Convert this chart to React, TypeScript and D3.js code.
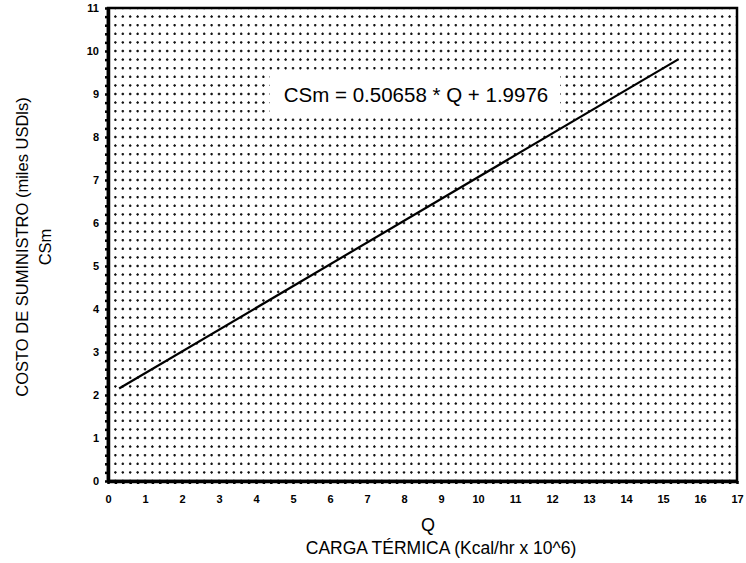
import { useEffect, useRef } from 'react';
import * as d3 from 'd3';

// fitted line end points (Q, CSm)
const lineQ = [0.3, 15.4];
const lineCSm = [2.15, 9.8];

const xTicks = [0, 1, 2, 3, 4, 5, 6, 7, 8, 9, 10, 11, 12, 13, 14, 15, 16, 17];
const yTicks = [0, 1, 2, 3, 4, 5, 6, 7, 8, 9, 10, 11];

const equationLabel = 'CSm = 0.50658 * Q + 1.9976';
const yTitle = 'COSTO DE SUMINISTRO (miles USDls)';
const yTitle2 = 'CSm';
const xTitle = 'Q';
const xTitle2 = 'CARGA TÉRMICA (Kcal/hr x 10^6)';

export default function App() {
  const svgRef = useRef<SVGSVGElement>(null);

  useEffect(() => {
    if (!svgRef.current) return;
    const svg = d3.select(svgRef.current);
    svg.selectAll('*').remove();

    const W = 746;
    const H = 563;
    const margin = { top: 8, right: 9, bottom: 82, left: 108 };
    const width = W - margin.left - margin.right;
    const height = H - margin.top - margin.bottom;
    const font = 'Liberation Sans, Arial, sans-serif';

    svg.attr('width', W).attr('height', H);
    svg.append('rect').attr('width', W).attr('height', H).attr('fill', '#fff');

    const g = svg.append('g').attr('transform', `translate(${margin.left},${margin.top})`);

    const x = d3.scaleLinear().domain([0, 17]).range([0, width]);
    const y = d3.scaleLinear().domain([0, 11]).range([height, 0]);

    const minorX = d3.range(0, 17.001, 0.2);
    const minorY = d3.range(0, 11.001, 0.2);
    const dx = x(0.2) - x(0);
    const dy = y(0) - y(0.2);

    // dotted grid, dots falling on the intersections
    g.append('g')
      .selectAll('line')
      .data(minorX)
      .enter()
      .append('line')
      .attr('x1', (d) => x(d))
      .attr('x2', (d) => x(d))
      .attr('y1', 0)
      .attr('y2', height)
      .attr('stroke', '#111')
      .attr('stroke-width', 1.3)
      .attr('stroke-dasharray', `2.5,${dy - 2.5}`)
      .attr('stroke-dashoffset', 1.25);

    g.append('g')
      .selectAll('line')
      .data(minorY)
      .enter()
      .append('line')
      .attr('x1', 0)
      .attr('x2', width)
      .attr('y1', (d) => y(d))
      .attr('y2', (d) => y(d))
      .attr('stroke', '#111')
      .attr('stroke-width', 1.3)
      .attr('stroke-dasharray', `2.5,${dx - 2.5}`)
      .attr('stroke-dashoffset', 1.25);

    // frame
    g.append('rect')
      .attr('width', width)
      .attr('height', height)
      .attr('fill', 'none')
      .attr('stroke', '#000')
      .attr('stroke-width', 2.5);

    // axes with beaded minor ticks
    const xMinor = d3.axisBottom(x).tickValues(minorX).tickSize(3).tickSizeOuter(0).tickFormat(() => '');
    g.append('g').attr('transform', `translate(0,${height})`).call(xMinor)
      .call((a) => a.select('.domain').attr('stroke-width', 3.5))
      .call((a) => a.selectAll('.tick line').attr('stroke-width', 2.5));

    const yMinor = d3.axisLeft(y).tickValues(minorY).tickSize(3).tickSizeOuter(0).tickFormat(() => '');
    g.append('g').call(yMinor)
      .call((a) => a.select('.domain').attr('stroke-width', 3.5))
      .call((a) => a.selectAll('.tick line').attr('stroke-width', 2.5));

    const xAxis = d3.axisBottom(x).tickValues(xTicks).tickSize(0).tickPadding(14).tickFormat(d3.format('d'));
    g.append('g').attr('transform', `translate(0,${height})`).call(xAxis)
      .call((a) => a.select('.domain').remove())
      .selectAll('text')
      .attr('font-family', font)
      .attr('font-weight', 'bold')
      .attr('font-size', 11)
      .attr('fill', '#000');

    const yAxis = d3.axisLeft(y).tickValues(yTicks).tickSize(0).tickPadding(9).tickFormat(d3.format('d'));
    g.append('g').call(yAxis)
      .call((a) => a.select('.domain').remove())
      .selectAll('text')
      .attr('font-family', font)
      .attr('font-weight', 'bold')
      .attr('font-size', 11)
      .attr('fill', '#000');

    // equation label with white background
    g.append('rect')
      .attr('x', 162)
      .attr('y', 62)
      .attr('width', 290)
      .attr('height', 48)
      .attr('fill', '#fff');

    g.append('text')
      .attr('x', 308)
      .attr('y', 94)
      .attr('text-anchor', 'middle')
      .attr('font-family', font)
      .attr('font-size', 20.5)
      .attr('fill', '#000')
      .text(equationLabel);

    // fitted line
    const pts: [number, number][] = lineQ.map((q, i) => [q, lineCSm[i]]);
    g.append('path')
      .datum(pts)
      .attr('fill', 'none')
      .attr('stroke', '#000')
      .attr('stroke-width', 2.2)
      .attr('d', d3.line<[number, number]>().x((d) => x(d[0])).y((d) => y(d[1])));

    // titles
    svg.append('text')
      .attr('transform', `translate(28,247) rotate(-90)`)
      .attr('text-anchor', 'middle')
      .attr('font-family', font)
      .attr('font-size', 16.5)
      .text(yTitle);
    svg.append('text')
      .attr('transform', `translate(51,247) rotate(-90)`)
      .attr('text-anchor', 'middle')
      .attr('font-family', font)
      .attr('font-size', 16.5)
      .text(yTitle2);
    svg.append('text')
      .attr('x', 428)
      .attr('y', 531)
      .attr('text-anchor', 'middle')
      .attr('font-family', font)
      .attr('font-size', 18)
      .text(xTitle);
    svg.append('text')
      .attr('x', 441)
      .attr('y', 554)
      .attr('text-anchor', 'middle')
      .attr('font-family', font)
      .attr('font-size', 17.5)
      .text(xTitle2);
  }, []);

  return <svg ref={svgRef} style={{ position: 'absolute', left: 0, top: 0 }} />;
}
